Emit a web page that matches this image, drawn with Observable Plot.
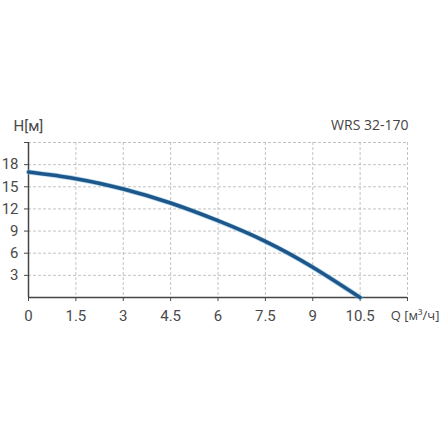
<!DOCTYPE html>
<html><head><meta charset="utf-8">
<script src="https://cdn.jsdelivr.net/npm/d3@7"></script>
<script src="https://cdn.jsdelivr.net/npm/@observablehq/plot@0.6"></script>
<style>body{margin:0;background:#fff}</style>
</head><body><div id="chart"></div>
<script>
const flow = [0, 1.5, 3, 4.5, 6, 7.5, 9, 10.5];
const head = [17, 16.1, 14.7, 12.8, 10.4, 7.6, 4.1, 0];
const xTicks = [0, 1.5, 3, 4.5, 6, 7.5, 9, 10.5, 12];
const yTicks = [3, 6, 9, 12, 15, 18, 21];
const title = "WRS 32-170";
const yLabel = "H[м]";
const xLabel = "Q [м³/ч]";
const data = flow.map((q, i) => ({q, h: head[i]}));
const chart = Plot.plot({
  width: 440, height: 440,
  marginLeft: 28, marginRight: 33, marginTop: 142, marginBottom: 143,
  style: {fontFamily: "Roboto, sans-serif", fontSize: "15px", fontWeight: 400, color: "#4a4a4a", background: "#fff"},
  x: {domain: [0, 12], ticks: xTicks, tickSize: 4, tickPadding: 9, label: null,
      tickFormat: d => d === 12 ? "" : String(d)},
  y: {domain: [0, 21], ticks: yTicks, tickSize: 4, tickPadding: 6, label: null,
      tickFormat: d => d === 21 ? "" : String(d)},
  marks: [
    Plot.gridX(xTicks, {stroke: "#aaa", strokeOpacity: 0.7, strokeDasharray: "3,2"}),
    Plot.gridY(yTicks, {stroke: "#aaa", strokeOpacity: 0.7, strokeDasharray: "3,2"}),
    Plot.ruleX([0], {stroke: "#444", strokeWidth: 1.5}),
    Plot.ruleY([0], {stroke: "#444", strokeWidth: 1.5}),
    Plot.line(data, {x: "q", y: "h", curve: "natural", stroke: "#7ab6dd", strokeWidth: 5, strokeOpacity: 0.6}),
    Plot.line(data, {x: "q", y: "h", curve: "natural", stroke: "#1d5689", strokeWidth: 3.5}),
    Plot.text([title], {frameAnchor: "top-right", dy: -22, dx: 1, text: d => d, fontFamily: "Open Sans, sans-serif", fontSize: 14, fill: "#444", textAnchor: "end"}),
    Plot.text([yLabel], {frameAnchor: "top-left", dy: -22, dx: -15, text: d => d, fontSize: 15, fill: "#4a4a4a", textAnchor: "start"}),
    Plot.text([xLabel], {frameAnchor: "bottom-right", dy: 22, dx: 32, text: d => d, fontFamily: "Open Sans, sans-serif", fontSize: 13, fill: "#444", textAnchor: "end"})
  ]
});
document.getElementById("chart").appendChild(chart);
</script></body></html>
